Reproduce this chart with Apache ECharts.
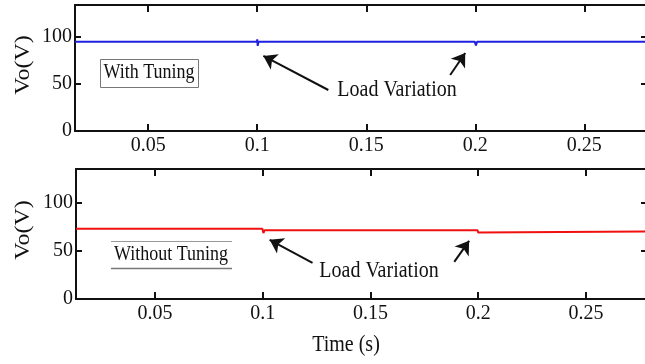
<!DOCTYPE html>
<html>
<head>
<meta charset="utf-8">
<script src="https://cdn.jsdelivr.net/npm/echarts@6/dist/echarts.min.js"></script>
<style>html,body{margin:0;padding:0;background:#fff}#c{width:645px;height:364px}</style>
</head>
<body>
<div id="c"></div>
<script>
// Tick values / labels
const xTicks = [0.05, 0.1, 0.15, 0.2, 0.25];
const yTicks = [0, 50, 100];
// With Tuning (blue) : [time s, Vo V]
const withTuning = [
  [0.0164, 95], [0.0998, 95], [0.1, 97.5], [0.1002, 90.5], [0.1006, 95],
  [0.1998, 95], [0.2, 93.5], [0.2003, 91], [0.2008, 94.8], [0.28, 94.8]
];
// Without Tuning (red)
const withoutTuning = [
  [0.0133, 73], [0.0998, 73], [0.1, 72], [0.1003, 68.5], [0.1008, 71.5],
  [0.1997, 71.5], [0.2, 69], [0.2004, 70], [0.28, 70]
];
// annotation arrows (data coordinates): [tail, tip]
const arrowsTop = [[[0.1326, 43.6], [0.1028, 79.8]], [[0.1885, 59.6], [0.1954, 83]]];
const arrowsBottom = [[[0.1231, 37.5], [0.1032, 61.5]], [[0.1889, 38.5], [0.1958, 60.4]]];

const FONT = 'Liberation Serif';
const INK = '#111';
const fmt = v => String(Math.round(v * 1000) / 1000);

function xAxes(gi, min, max) {
  return [
    { type: 'value', gridIndex: gi, min: min, max: max, position: 'bottom',
      axisLine: { onZero: false, lineStyle: { color: INK, width: 2 } },
      axisTick: { inside: true, length: 7, customValues: xTicks, lineStyle: { color: INK, width: 2 } },
      axisLabel: { customValues: xTicks, formatter: fmt, fontFamily: FONT, fontSize: 20, color: INK, margin: 5 },
      splitLine: { show: false } },
    { type: 'value', gridIndex: gi, min: min, max: max, position: 'top',
      axisLine: { onZero: false, lineStyle: { color: INK, width: 2 } },
      axisTick: { inside: true, length: 7, customValues: xTicks, lineStyle: { color: INK, width: 2 } },
      axisLabel: { show: false }, splitLine: { show: false } }
  ];
}
function yAxes(gi, max) {
  return [
    { type: 'value', gridIndex: gi, min: 0, max: max, position: 'left',
      axisLine: { onZero: false, lineStyle: { color: INK, width: 2 } },
      axisTick: { inside: true, length: 6, customValues: yTicks, lineStyle: { color: INK, width: 2 } },
      axisLabel: { customValues: yTicks, fontFamily: FONT, fontSize: 20, color: INK, margin: 3 },
      splitLine: { show: false } },
    { type: 'value', gridIndex: gi, min: 0, max: max, position: 'right',
      axisLine: { onZero: false, lineStyle: { color: INK, width: 2 } },
      axisTick: { inside: true, length: 8, customValues: yTicks, lineStyle: { color: INK, width: 2 } },
      axisLabel: { show: false }, splitLine: { show: false } }
  ];
}
function arrowLines(list) {
  return {
    silent: true, symbol: ['none', 'arrow'], symbolSize: 13, precision: 4,
    itemStyle: { color: INK },
    lineStyle: { color: INK, width: 2, type: 'solid' }, label: { show: false },
    data: list.map(a => [{ coord: a[0] }, { coord: a[1] }])
  };
}

const chart = echarts.init(document.getElementById('c'), null, { renderer: 'canvas' });
const T = (x, y, text, size, extra) => Object.assign({ type: 'text', x: x, y: y, scaleY: 1.15,
  style: { text: text, font: size + 'px "Liberation Serif"', fill: INK, align: 'center', verticalAlign: 'middle' } }, extra || {});
chart.setOption({
  animation: false,
  backgroundColor: '#fff',
  grid: [
    { left: 75, top: 5, width: 574, height: 126, containLabel: false, outerBoundsMode: 'none' },
    { left: 76, top: 169, width: 573, height: 130, containLabel: false, outerBoundsMode: 'none' }
  ],
  xAxis: [...xAxes(0, 0.0164, 0.2797), ...xAxes(1, 0.0133, 0.2793)],
  yAxis: [...yAxes(0, 134), ...yAxes(1, 135)],
  series: [
    { type: 'line', xAxisIndex: 0, yAxisIndex: 0, data: withTuning, showSymbol: false,
      lineStyle: { color: '#2020e0', width: 2 }, markLine: arrowLines(arrowsTop) },
    { type: 'line', xAxisIndex: 2, yAxisIndex: 2, data: withoutTuning, showSymbol: false,
      lineStyle: { color: '#f01010', width: 2 }, markLine: arrowLines(arrowsBottom) }
  ],
  graphic: [
    { type: 'rect', shape: { x: 100.5, y: 59.5, width: 98, height: 28 },
      style: { fill: '#fff', stroke: '#777', lineWidth: 1 } },
    T(149, 73, 'With Tuning', 18),
    { type: 'line', shape: { x1: 111, y1: 241.5, x2: 232, y2: 241.5 }, style: { stroke: '#999', lineWidth: 1 } },
    { type: 'line', shape: { x1: 111, y1: 268.5, x2: 232, y2: 268.5 }, style: { stroke: '#777', lineWidth: 1.5 } },
    T(171, 255, 'Without Tuning', 18),
    T(397, 90, 'Load Variation', 20),
    T(379, 271, 'Load Variation', 20),
    { type: 'text', x: 24, y: 65, rotation: Math.PI / 2, scaleX: 1.2,
      style: { text: 'Vo(V)', font: '20px "Liberation Serif"', fill: INK, align: 'center', verticalAlign: 'middle' } },
    { type: 'text', x: 24, y: 230, rotation: Math.PI / 2, scaleX: 1.2,
      style: { text: 'Vo(V)', font: '20px "Liberation Serif"', fill: INK, align: 'center', verticalAlign: 'middle' } },
    T(346, 345, 'Time (s)', 20)
  ]
});
</script>
</body>
</html>
